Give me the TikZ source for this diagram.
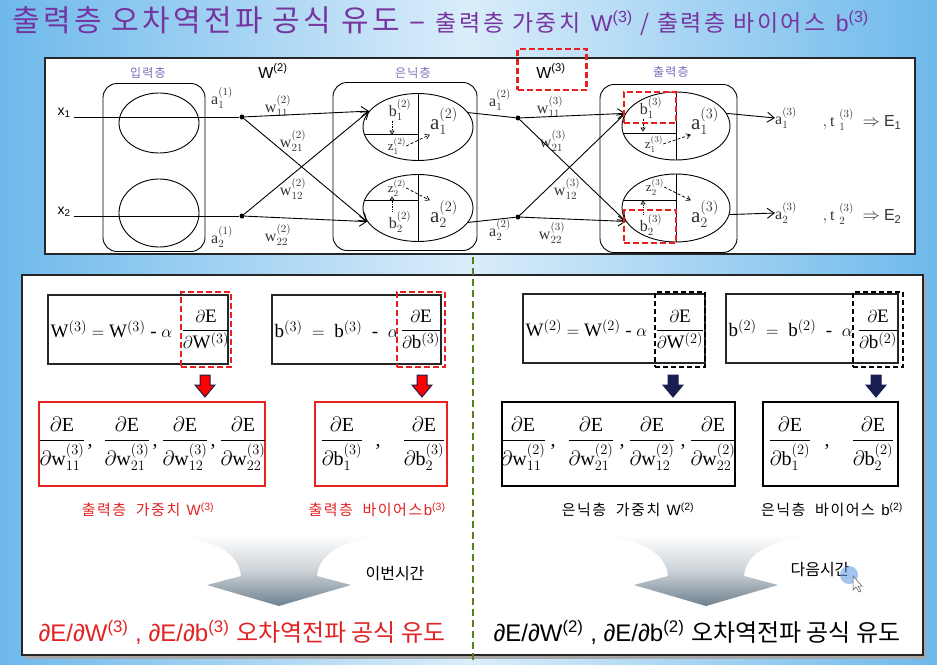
\documentclass[tikz,border=0pt]{standalone}
\usepackage{amsmath}
\usepackage{fontspec}
\setmainfont{Liberation Serif}
\setsansfont{Liberation Sans}
\newfontfamily\kr{Noto Sans CJK KR}
\newfontfamily\krsp[LetterSpace=10]{Noto Sans CJK KR}
\newfontfamily\krtitle[LetterSpace=11]{Noto Sans CJK KR}
\usetikzlibrary{positioning,arrows.meta,shapes.geometric}
\definecolor{titlepurple}{RGB}{118,52,160}
\definecolor{layerpurple}{RGB}{125,105,190}
\definecolor{boxred}{RGB}{232,32,32}
\definecolor{textred}{RGB}{225,35,35}
\definecolor{lineolive}{RGB}{85,130,25}
\definecolor{navyarrow}{RGB}{25,30,80}
\definecolor{bgside}{RGB}{110,185,235}
\definecolor{bgmid}{RGB}{218,237,250}
\definecolor{fadegray}{RGB}{110,128,142}
\definecolor{cursorblue}{RGB}{90,150,230}
\newcommand{\pdE}[1]{\dfrac{\partial\mathrm{E}}{\partial #1}}
\newcommand{\dnarr}[3]{\filldraw[draw=navyarrow, fill=#3, line width=1pt, shift={(#1,#2)}] (-5,0) -- (5,0) -- (5,10) -- (10,10) -- (0,22) -- (-10,10) -- (-5,10) -- cycle;}
\newcommand{\bigfade}[1]{\shade[top color=white, bottom color=fadegray, middle color=white!65!fadegray, shift={(#1,0)}] (-122,535) -- (125,535) .. controls (60,537) and (40,555) .. (38,576) -- (72,585) -- (0,606) -- (-72,585) -- (-38,576) .. controls (-40,555) and (-60,537) .. (-122,535) -- cycle;}
\tikzset{
  panel/.style={draw=black!85, line width=1.3pt, fill=white},
  layerbox/.style={draw, rounded corners=14pt, line width=0.9pt, minimum height=168, minimum width=#1, inner sep=0},
  cell/.style={draw, ellipse, line width=0.9pt, inner sep=0},
  layername/.style={text=layerpurple, font=\krsp\fontsize{12}{12}\selectfont},
  wlab/.style={text=black!80, font=\fontsize{16}{16}\selectfont, inner sep=0},
  clab/.style={text=black!80, inner sep=0, font=\fontsize{#1}{#1}\selectfont},
  dot/.style={circle, fill, inner sep=0, minimum size=5},
  link/.style={line width=0.9pt, -{Straight Barb[length=7pt,width=10pt]}},
  dotlink/.style={densely dotted, line width=0.7pt, -{Triangle[open,length=4pt,width=5pt]}},
  dashlink/.style={densely dashed, line width=0.7pt, -{Straight Barb[length=4pt,width=5pt]}},
  reddash/.style={draw=boxred, line width=2.2pt, dash pattern=on 6pt off 3pt, inner sep=0},
  blackdash/.style={draw=black, line width=2pt, dash pattern=on 5pt off 3pt, inner sep=0},
  eqbox/.style={draw=black!85, line width=1.2pt, fill=white, minimum height=69},
  eqtxt/.style={font=\fontsize{19}{19}\selectfont, inner sep=3pt},
  eqfrac/.style={font=\fontsize{19}{19}\selectfont, minimum height=75},
  dbox/.style={draw=#1, line width=1.3pt, fill=white, minimum height=84},
  fraclab/.style={font=\fontsize{20}{20}\selectfont, inner sep=0},
  sublab/.style={font=\krsp\fontsize{15}{15}\selectfont},
  sumtxt/.style={font=\sffamily\fontsize{24}{24}\selectfont},
}
\begin{document}
\begin{tikzpicture}[x=1pt,y=-1pt]
\useasboundingbox (0,0) rectangle (937,664);
\shade[left color=bgside, right color=bgside, middle color=bgmid] (0,0) rectangle (937,664);
\node[anchor=west, text=titlepurple, inner sep=0] (title) at (12,21) {\krtitle\fontsize{30}{30}\selectfont 출력층 오차역전파 공식 유도 – \fontsize{23}{23}\selectfont 출력층 가중치 \textsf{W\textsuperscript{(3)}} / 출력층 바이어스 \textsf{b\textsuperscript{(3)}}};

\draw[panel] (45,58) rectangle (915,254);
\node[layerbox=102] (inbox) at (154,167.5) {};
\node[layerbox=144] (hidbox) at (405,166.5) {};
\node[layerbox=137] (outbox) at (668.5,168.5) {};
\node[layername] (inname) at (148,73) {입력층};
\node[layername] (hidname) at (413,73) {은닉층};
\node[layername] (outname) at (671,72) {출력층};
\node[font=\sffamily\fontsize{16}{16}\selectfont] (W2) at (273,71) {W\textsuperscript{(2)}};
\node[font=\sffamily\fontsize{16}{16}\selectfont] (W3) at (551,71) {W\textsuperscript{(3)}};
\node[reddash, minimum width=69, minimum height=41] (W3box) at (552,69.5) {};

\node[cell, minimum width=80, minimum height=60] (i1) at (159,123) {};
\node[cell, minimum width=80, minimum height=68] (i2) at (159,213) {};
\node[cell, minimum width=110, minimum height=67] (h1) at (418,127) {};
\node[cell, minimum width=110, minimum height=67] (h2) at (418,208) {};
\node[cell, minimum width=108, minimum height=68] (o1) at (676,126) {};
\node[cell, minimum width=108, minimum height=68] (o2) at (676,208) {};

\node[font=\sffamily\fontsize{14}{14}\selectfont] (x1) at (64,113) {x\textsubscript{1}};
\node[font=\sffamily\fontsize{14}{14}\selectfont] (x2) at (64,212) {x\textsubscript{2}};
\node[dot] (d1) at (242,117) {};
\node[dot] (d2) at (242,216) {};
\node[dot] (e1) at (518,118) {};
\node[dot] (e2) at (518,217) {};

\node[wlab] (a11) at (222,98) {$\mathrm{a}_1^{(1)}$};
\node[wlab] (a21) at (222,237) {$\mathrm{a}_2^{(1)}$};
\node[wlab] (w211) at (278,106) {$\mathrm{w}_{11}^{(2)}$};
\node[wlab] (w221) at (293,141) {$\mathrm{w}_{21}^{(2)}$};
\node[wlab] (w212) at (293,189) {$\mathrm{w}_{12}^{(2)}$};
\node[wlab] (w222) at (278,235) {$\mathrm{w}_{22}^{(2)}$};
\node[wlab] (a12) at (500,100) {$\mathrm{a}_1^{(2)}$};
\node[wlab] (a22) at (500,230) {$\mathrm{a}_2^{(2)}$};
\node[wlab] (w311) at (550,107) {$\mathrm{w}_{11}^{(3)}$};
\node[wlab] (w321) at (553,141) {$\mathrm{w}_{21}^{(3)}$};
\node[wlab] (w312) at (567,189) {$\mathrm{w}_{12}^{(3)}$};
\node[wlab] (w322) at (552,233) {$\mathrm{w}_{22}^{(3)}$};

\draw[line width=0.9pt] (x1.east |- d1) -- (d1);
\draw[line width=0.9pt] (x2.east |- d2) -- (d2);
\draw[link] (d1) -- (h1.162);
\draw[link] (d1) -- (h2.195);
\draw[link] (d2) -- (h2.195);
\draw[link] (d2) -- (h1.162);
\draw[line width=0.9pt] (h1.16) -- (e1);
\draw[line width=0.9pt] (h2.-16) -- (e2);
\draw[link] (e1) -- (o1.166);
\draw[link] (e1) -- (o2.195);
\draw[link] (e2) -- (o2.195);
\draw[link] (e2) -- (o1.166);

\draw[line width=0.9pt] (h1.north) -- (h1.south);
\draw[line width=0.9pt] (h1.188) -- (h1.188 -| h1.center);
\draw[line width=0.9pt] (h2.north) -- (h2.south);
\draw[line width=0.9pt] (h2.172) -- (h2.172 -| h2.center);
\draw[line width=0.9pt] (o1.north) -- (o1.south);
\draw[line width=0.9pt] (o1.188) -- (o1.188 -| o1.center);
\draw[line width=0.9pt] (o2.north) -- (o2.south);
\draw[line width=0.9pt] (o2.172) -- (o2.172 -| o2.center);

\node[clab=16] (hb1) at (400,110) {$\mathrm{b}_1^{(2)}$};
\node[clab=21] (ha1) at (444,121) {$\mathrm{a}_1^{(2)}$};
\node[clab=13] (hz1) at (397,146) {$\mathrm{z}_1^{(2)}$};
\node[clab=13] (hz2) at (397,188) {$\mathrm{z}_2^{(2)}$};
\node[clab=16] (hb2) at (400,222) {$\mathrm{b}_2^{(2)}$};
\node[clab=21] (ha2) at (444,214) {$\mathrm{a}_2^{(2)}$};
\draw[dotlink] ([xshift=-8pt]hb1.south) -- ++(0,14);
\draw[dashlink] (hz1.east) -- (ha1.south west);
\draw[dotlink] ([xshift=-8pt]hb2.north) -- ++(0,-15);
\draw[dashlink] (hz2.east) -- (ha2.north west);

\node[clab=16] (ob1) at (651,108) {$\mathrm{b}_1^{(3)}$};
\node[clab=21] (oa1) at (705,121) {$\mathrm{a}_1^{(3)}$};
\node[clab=13] (oz1) at (654,144) {$\mathrm{z}_1^{(3)}$};
\node[clab=13] (oz2) at (655,187) {$\mathrm{z}_2^{(3)}$};
\node[clab=16] (ob2) at (651,225) {$\mathrm{b}_2^{(3)}$};
\node[clab=21] (oa2) at (705,214) {$\mathrm{a}_2^{(3)}$};
\draw[dotlink] ([xshift=-8pt]ob1.south) -- ++(0,13);
\draw[dashlink] (oz1.east) -- (oa1.south west);
\draw[dotlink] ([xshift=-8pt]ob2.north) -- ++(0,-14);
\draw[dashlink] (oz2.east) -- (oa2.north west);
\node[reddash, minimum width=52, minimum height=31] (rb1) at (650,107.5) {};
\node[reddash, minimum width=52, minimum height=33] (rb2) at (650,226.5) {};

\node[wlab] (y1) at (786,118) {$\mathrm{a}_1^{(3)}$};
\node[wlab] (y2) at (786,213) {$\mathrm{a}_2^{(3)}$};
\draw[link] (o1.14) -- (y1.west);
\draw[link] (o2.-7) -- (y2.west);
\node[wlab, font=\fontsize{16}{16}\selectfont] (t1) at (862,120) {$,\mathrm{t}\;{}_1^{(3)}\ \Rightarrow\ $\textsf{E\textsubscript{1}}};
\node[wlab, font=\fontsize{16}{16}\selectfont] (t2) at (862,214) {$,\mathrm{t}\;{}_2^{(3)}\ \Rightarrow\ $\textsf{E\textsubscript{2}}};

\fill[black!35] (25,278) rectangle (926,659);
\draw[panel] (22,275) rectangle (923,655);
\draw[lineolive, line width=2pt, dash pattern=on 7pt off 4pt] (473,257) -- (473,664);

\node[eqbox, minimum width=180] (eqW3) at (138,329.5) {};
\node[eqtxt, anchor=west] (eqW3l) at (eqW3.west) {$\mathrm{W}^{(3)} = \mathrm{W}^{(3)}\;\text{-}\;\alpha$};
\node[eqfrac, reddash, minimum width=50] (fW3) at (206,329.5) {$\pdE{\mathrm{W}^{(3)}}$};
\node[eqbox, minimum width=169] (eqb3) at (356.5,329.5) {};
\node[eqtxt, anchor=west] (eqb3l) at (eqb3.west) {$\mathrm{b}^{(3)}\; = \;\mathrm{b}^{(3)}\;\;\text{-}\;\;\alpha$};
\node[eqfrac, reddash, minimum width=48] (fb3) at (421,329.5) {$\pdE{\mathrm{b}^{(3)}}$};
\node[eqbox, minimum width=182] (eqW2) at (614,328.5) {};
\node[eqtxt, anchor=west] (eqW2l) at (eqW2.west) {$\mathrm{W}^{(2)} = \mathrm{W}^{(2)}\;\text{-}\;\alpha$};
\node[eqfrac, blackdash, minimum width=50] (fW2) at (680,329.5) {$\pdE{\mathrm{W}^{(2)}}$};
\node[eqbox, minimum width=172] (eqb2) at (812,328.5) {};
\node[eqtxt, anchor=west] (eqb2l) at (eqb2.west) {$\mathrm{b}^{(2)}\; = \;\mathrm{b}^{(2)}\;\;\text{-}\;\;\alpha$};
\node[eqfrac, blackdash, minimum width=50] (fb2) at (878,329.5) {$\pdE{\mathrm{b}^{(2)}}$};

\dnarr{205}{375}{red}
\dnarr{422}{375}{red}
\dnarr{673}{375}{navyarrow}
\dnarr{876}{375}{navyarrow}

\node[dbox=boxred, minimum width=226] (dW3) at (152,444) {};
\node[fraclab] (dW3a) at (62,444) {$\pdE{\mathrm{w}^{(3)}_{11}}$};
\node[fraclab] (dW3b) at (127,444) {$\pdE{\mathrm{w}^{(3)}_{21}}$};
\node[fraclab] (dW3c) at (185,444) {$\pdE{\mathrm{w}^{(3)}_{12}}$};
\node[fraclab] (dW3d) at (243,444) {$\pdE{\mathrm{w}^{(3)}_{22}}$};
\node[fraclab] at (90,447) {,};
\node[fraclab] at (155,447) {,};
\node[fraclab] at (213,447) {,};
\node[dbox=boxred, minimum width=132] (db3) at (381,444) {};
\node[fraclab] (db3a) at (342,444) {$\pdE{\mathrm{b}^{(3)}_{1}}$};
\node[fraclab] (db3b) at (424,444) {$\pdE{\mathrm{b}^{(3)}_{2}}$};
\node[fraclab] at (378,447) {,};
\node[dbox=black, minimum width=233] (dW2) at (618.5,444) {};
\node[fraclab] (dW2a) at (523,444) {$\pdE{\mathrm{w}^{(2)}_{11}}$};
\node[fraclab] (dW2b) at (591,444) {$\pdE{\mathrm{w}^{(2)}_{21}}$};
\node[fraclab] (dW2c) at (652,444) {$\pdE{\mathrm{w}^{(2)}_{12}}$};
\node[fraclab] (dW2d) at (713,444) {$\pdE{\mathrm{w}^{(2)}_{22}}$};
\node[fraclab] at (553,447) {,};
\node[fraclab] at (622,447) {,};
\node[fraclab] at (683,447) {,};
\node[dbox=black, minimum width=135] (db2) at (830.5,444) {};
\node[fraclab] (db2a) at (790,444) {$\pdE{\mathrm{b}^{(2)}_{1}}$};
\node[fraclab] (db2b) at (873,444) {$\pdE{\mathrm{b}^{(2)}_{2}}$};
\node[fraclab] at (827,447) {,};

\node[sublab, text=textred] (lW3) at (148,510) {출력층\ \ 가중치 \textsf{W\textsuperscript{(3)}}};
\node[sublab, text=textred] (lb3) at (377,510) {출력층\ \ 바이어스\textsf{b\textsuperscript{(3)}}};
\node[sublab] (lW2) at (628,510) {은닉층\ \ 가중치 \textsf{W\textsuperscript{(2)}}};
\node[sublab] (lb2) at (832,510) {은닉층\ \ 바이어스 \textsf{b\textsuperscript{(2)}}};

\bigfade{279}
\bigfade{706}
\node[font=\kr\fontsize{16}{16}\selectfont] (now) at (395,574) {이번시간};
\node[font=\kr\fontsize{16}{16}\selectfont] (next) at (820,570) {다음시간};
\fill[cursorblue, opacity=0.55] (849,575) circle (9);
\filldraw[fill=white, draw=black!70, line width=0.5pt] (853,576) -- (853,590) -- (856,587) -- (859,592) -- (861,591) -- (858,586) -- (862,586) -- cycle;

\node[sumtxt, text=textred] (sumL) at (242,632) {∂E/∂W\textsuperscript{(3)} , ∂E/∂b\textsuperscript{(3)} {\kr 오차역전파 공식 유도}};
\node[sumtxt] (sumR) at (697,632) {∂E/∂W\textsuperscript{(2)} , ∂E/∂b\textsuperscript{(2)} {\kr 오차역전파 공식 유도}};
\end{tikzpicture}
\end{document}
